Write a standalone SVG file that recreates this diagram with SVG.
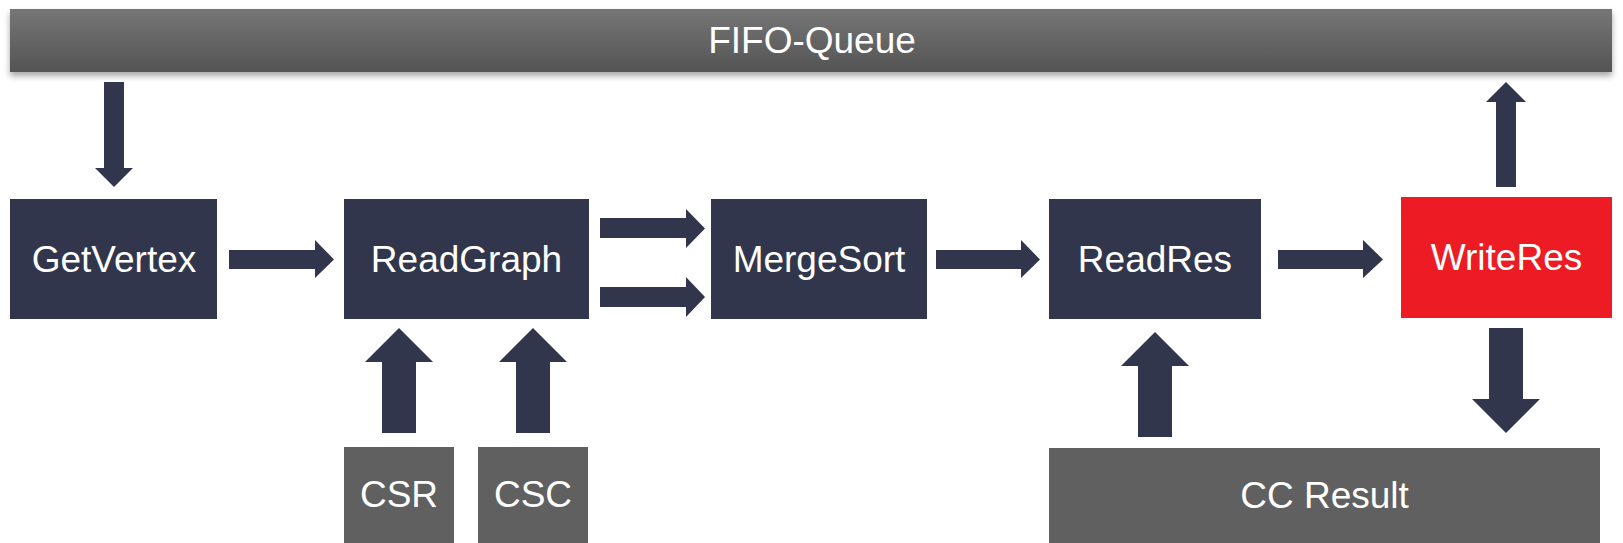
<svg xmlns="http://www.w3.org/2000/svg" width="1623" height="543" viewBox="0 0 1623 543">
<defs>
<linearGradient id="gFifo" x1="0" y1="0" x2="0" y2="1">
<stop offset="0" stop-color="#767676"/>
<stop offset="1" stop-color="#545454"/>
</linearGradient>
<filter id="shadow" x="-5%" y="-30%" width="110%" height="170%">
<feDropShadow dx="0" dy="4" stdDeviation="3" flood-color="#000" flood-opacity="0.35"/>
</filter>
</defs>
<style>
.dark{fill:#31364C}
.red{fill:#ED1C24}
.gray{fill:#606060}
.arrow{fill:#31364C}
text{font-family:"Liberation Sans",Arial,sans-serif;font-size:37px;fill:#FFFFFF;text-anchor:middle}
</style>
<rect width="1623" height="543" fill="#FFFFFF"/>
<g id="fifo-queue">
<rect x="10" y="9" width="1602" height="63" fill="url(#gFifo)" filter="url(#shadow)"/>
<text x="812" y="53">FIFO-Queue</text>
</g>
<g id="getvertex">
<rect class="dark" x="10" y="199" width="207" height="120"/>
<text x="114" y="272">GetVertex</text>
</g>
<g id="readgraph">
<rect class="dark" x="344" y="199" width="245" height="120"/>
<text x="466.5" y="272">ReadGraph</text>
</g>
<g id="mergesort">
<rect class="dark" x="711" y="199" width="216" height="120"/>
<text x="819" y="272">MergeSort</text>
</g>
<g id="readres">
<rect class="dark" x="1049" y="199" width="212" height="120"/>
<text x="1155" y="272">ReadRes</text>
</g>
<g id="writeres">
<rect class="red" x="1401" y="197" width="211" height="121"/>
<text x="1506.5" y="270">WriteRes</text>
</g>
<g id="csr">
<rect class="gray" x="344" y="447" width="110" height="96"/>
<text x="399" y="507">CSR</text>
</g>
<g id="csc">
<rect class="gray" x="478" y="447" width="110" height="96"/>
<text x="533" y="507">CSC</text>
</g>
<g id="cc-result">
<rect class="gray" x="1049" y="448" width="551" height="95"/>
<text x="1324.5" y="508">CC Result</text>
</g>
<g id="connectors">
<polygon class="arrow" points="104,82 124,82 124,168 133,168 114,187 95,168 104,168"/>
<polygon class="arrow" points="229,250 315,250 315,240 334,259.5 315,278 315,269 229,269"/>
<polygon class="arrow" points="600,218 686,218 686,209 705,228.5 686,248 686,238 600,238"/>
<polygon class="arrow" points="600,287 686,287 686,277 705,297 686,317 686,307 600,307"/>
<polygon class="arrow" points="936,250 1021,250 1021,240 1040,259.5 1021,278 1021,269 936,269"/>
<polygon class="arrow" points="1278,250 1363,250 1363,240 1383,259.5 1363,278 1363,269 1278,269"/>
<polygon class="arrow" points="1496,187 1516,187 1516,102 1526,102 1506,82 1486,102 1496,102"/>
<polygon class="arrow" points="382,433 416,433 416,362 433,362 399,328 365,362 382,362"/>
<polygon class="arrow" points="516,433 550,433 550,362 567,362 533,328 499,362 516,362"/>
<polygon class="arrow" points="1138,437 1172,437 1172,366 1189,366 1155,332 1121,366 1138,366"/>
<polygon class="arrow" points="1489,328 1523,328 1523,399 1540,399 1506,433 1472,399 1489,399"/>
</g>
</svg>
